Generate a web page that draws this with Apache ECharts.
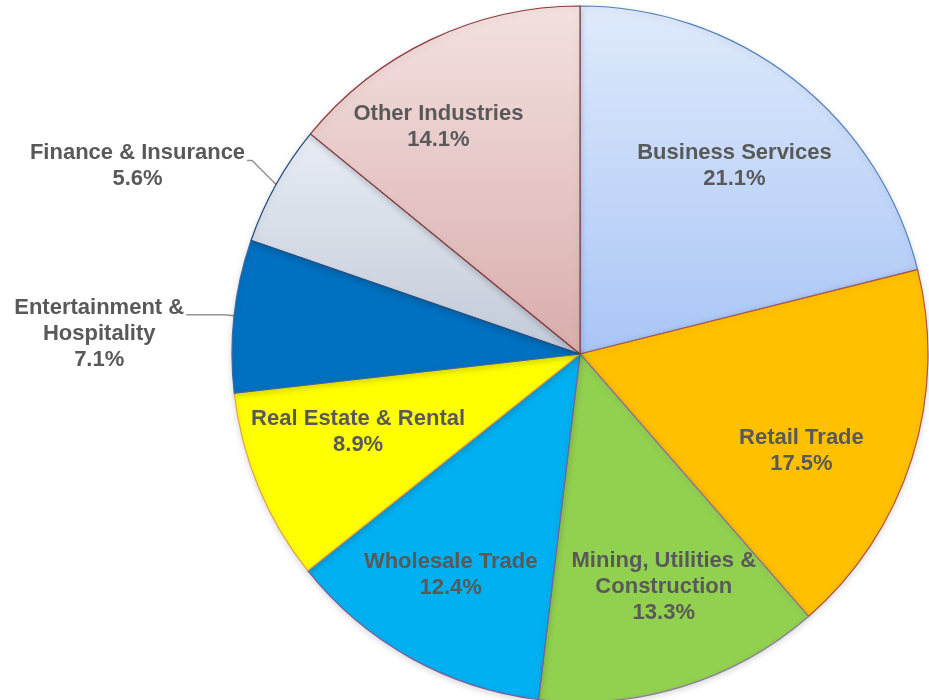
<!DOCTYPE html>
<html>
<head>
<meta charset="utf-8">
<script src="https://cdn.jsdelivr.net/npm/echarts@6/dist/echarts.min.js"></script>
<style>
  html, body { margin: 0; padding: 0; background: #fff; }
  #chart { width: 929px; height: 700px; }
</style>
</head>
<body>
<div id="chart"></div>
<script>
// industry shares, clockwise from 12 o'clock
const industries = ['Business Services', 'Retail Trade', 'Mining, Utilities &\nConstruction', 'Wholesale Trade',
  'Real Estate & Rental', 'Entertainment &\nHospitality', 'Finance & Insurance', 'Other Industries'];
const shares = [21.1, 17.5, 13.3, 12.4, 8.9, 7.1, 5.6, 14.1];
// slices labelled outside with a leader line
const outsideLabels = ['Finance & Insurance', 'Entertainment &\nHospitality'];

const grad = (a, b) => new echarts.graphic.LinearGradient(0, 0, 0, 1, [
  { offset: 0, color: a }, { offset: 1, color: b }
]);
const fills = [
  grad('#dfeafb', '#a9c5f6'), '#ffc000', '#92d050', '#00b0f0',
  '#ffff00', '#0070c0', grad('#e8edf4', '#c2cad8'), grad('#f3e1e0', '#d9adac')
];
const borders = ['#4f81bd', '#b0504d', '#8a7a9a', '#7a5ea0', '#e8a040', '#3a6aa0', '#1f497d', '#8c3836'];
// small nudges of the inside labels, in pixels
const labelNudge = [[0, 10], [-18, 22], [10, -7], [-7, 2], [10, -18], [0, 0], [0, 0], [-34, 0]];

const textStyle = {
  color: '#595959',
  fontFamily: 'Liberation Sans, Arial, sans-serif',
  fontWeight: 'bold',
  fontSize: 22,
  lineHeight: 26
};
const fmt = p => p.name + '\n' + p.value.toFixed(1) + '%';

const chart = echarts.init(document.getElementById('chart'));

let option = {
  animation: false,
  series: [
    {
      // visible pie, only the outside labels
      type: 'pie',
      center: [580, 354],
      radius: 348,
      startAngle: 90,
      avoidLabelOverlap: false,
      silent: true,
      data: industries.map((n, i) => ({
        name: n,
        value: shares[i],
        itemStyle: { color: fills[i], borderColor: borders[i], borderWidth: 1.2 },
        label: { show: outsideLabels.includes(n) },
        labelLine: { show: outsideLabels.includes(n) }
      })),
      itemStyle: { shadowBlur: 6, shadowOffsetY: 2, shadowColor: 'rgba(0,0,0,0.15)' },
      label: Object.assign({ position: 'outside', formatter: fmt }, textStyle),
      labelLine: { length: 10, length2: 38, smooth: false, lineStyle: { color: '#949494', width: 1.5 } },
      labelLayout: function (params) {
        const pts = params.labelLinePoints;
        if (!pts) return {};
        let p = pts;
        if (params.text.indexOf('Finance') === 0) {
          const p1 = [pts[0][0] - 24, pts[0][1] - 24];
          p = [pts[0], p1, [p1[0] - 5, p1[1]]];
        }
        const end = p[p.length - 1];
        const w = params.labelRect.width;
        return {
          x: end[0] - w / 2 - 2,
          y: end[1] - 20,
          align: 'center',
          verticalAlign: 'top',
          labelLinePoints: p
        };
      }
    },
    {
      // transparent pie of larger radius, used only to place the inside labels
      type: 'pie',
      center: [580, 354],
      radius: 496,
      startAngle: 90,
      silent: true,
      z: 3,
      data: industries.map((n, i) => ({
        name: n,
        value: shares[i],
        label: { show: !outsideLabels.includes(n) }
      })),
      itemStyle: { color: 'rgba(0,0,0,0)', borderWidth: 0 },
      label: Object.assign({ position: 'inside', formatter: fmt, align: 'center' }, textStyle),
      labelLine: { show: false },
      labelLayout: function (params) {
        const d = labelNudge[params.dataIndex];
        return { dx: d[0], dy: d[1] };
      }
    }
  ]
};

option && chart.setOption(option);
</script>
</body>
</html>
